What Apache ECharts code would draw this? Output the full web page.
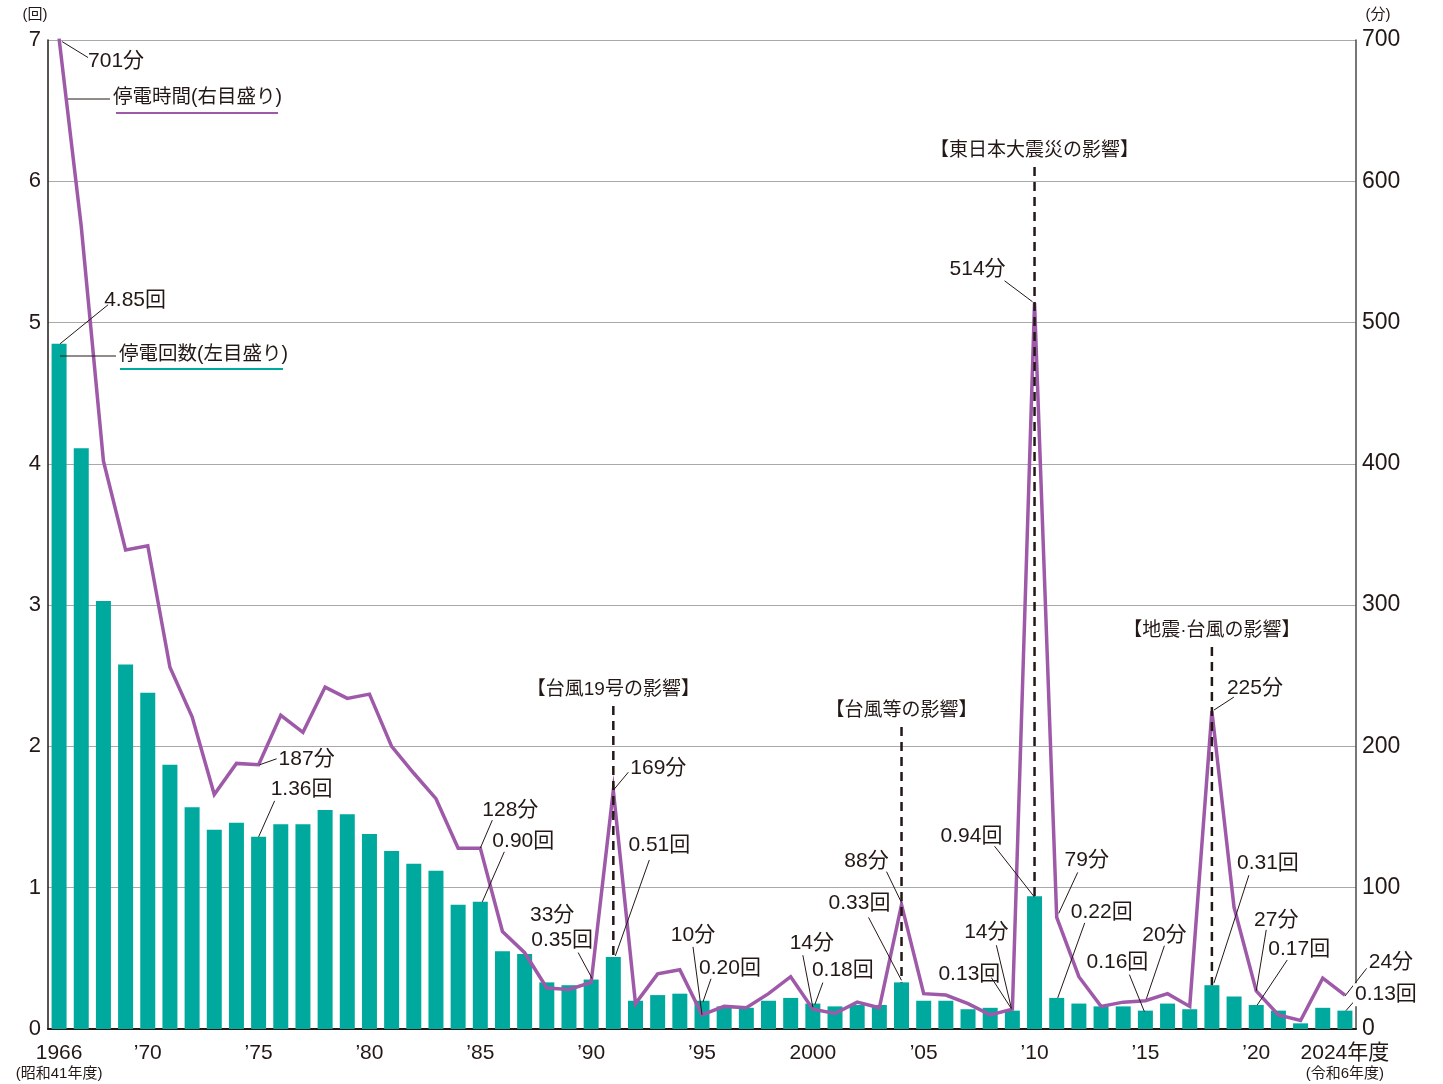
<!DOCTYPE html>
<html>
<head>
<meta charset="utf-8">
<script src="https://cdn.jsdelivr.net/npm/echarts@6/dist/echarts.min.js"></script>
<style>
html, body { margin: 0; background: #fff; }
#main { width: 1443px; height: 1084px; }
</style>
</head>
<body>
<div id="main"></div>
<script>
// 年度
var years = ['1966','1967','1968','1969','1970','1971','1972','1973','1974','1975',
             '1976','1977','1978','1979','1980','1981','1982','1983','1984','1985',
             '1986','1987','1988','1989','1990','1991','1992','1993','1994','1995',
             '1996','1997','1998','1999','2000','2001','2002','2003','2004','2005',
             '2006','2007','2008','2009','2010','2011','2012','2013','2014','2015',
             '2016','2017','2018','2019','2020','2021','2022','2023','2024'];
// 停電回数（回）
var counts = [4.85, 4.11, 3.03, 2.58, 2.38, 1.87, 1.57, 1.41, 1.46, 1.36,
              1.45, 1.45, 1.55, 1.52, 1.38, 1.26, 1.17, 1.12, 0.88, 0.90,
              0.55, 0.53, 0.33, 0.31, 0.35, 0.51, 0.20, 0.24, 0.25, 0.20,
              0.16, 0.15, 0.20, 0.22, 0.18, 0.16, 0.17, 0.17, 0.33, 0.20,
              0.20, 0.14, 0.15, 0.13, 0.94, 0.22, 0.18, 0.16, 0.16, 0.13,
              0.18, 0.14, 0.31, 0.23, 0.17, 0.13, 0.04, 0.15, 0.13];
// 停電時間（分）
var minutes = [701, 568, 402, 339, 342, 256, 221, 166, 188, 187,
               222, 210, 242, 234, 237, 200, 181, 163, 128, 128,
               69, 54, 29, 28, 33, 169, 18, 39, 42, 10,
               16, 15, 25, 37, 14, 11, 19, 15, 88, 25,
               24, 18, 10, 14, 514, 79, 37, 16, 19, 20,
               25, 16, 225, 86, 27, 10, 6, 36, 24];
var tickYears = ['1966','1970','1975','1980','1985','1990','1995','2000','2005','2010','2015','2020','2024'];
var tickLabels = ['1966', '’70', '’75', '’80', '’85', '’90', '’95', '2000', '’05', '’10', '’15', '’20', '2024年度'];
var leftTicks = [0, 1, 2, 3, 4, 5, 6, 7];
var rightTicks = [0, 100, 200, 300, 400, 500, 600, 700];

var TEXT = '#231815';
var TEAL = '#00a99d';
var PURPLE = '#9e5aa8';
var FONT = '"Liberation Sans", "Noto Sans CJK JP", sans-serif';

// 注記: 年度, 文字, 文字中心オフセット, 引出線(始点/終点オフセット), 白地
var minuteNotes = [
    ['1966', '701分', [57, 23], [3, 3, 29, 19]],
    ['1975', '187分', [48, -6], [1, 0, 18, -6]],
    ['1985', '128分', [30, -38], [0, 0, 12, -28]],
    ['1990', '33分', [-39, -67], null],
    ['1991', '169分', [45, -22], [0, 0, 15, -18]],
    ['1995', '10分', [-9, -80], [0, 0, -9, -68]],
    ['2000', '14分', [-1, -66], [0, -2, -10, -54]],
    ['2004', '88分', [-35, -43], [0, -2, -15, -33]],
    ['2010', '514分', [-57, -34], [-2, -1, -30, -22]],
    ['2009', '14分', [-26, -77], [-1, -1, -16, -64]],
    ['2011', '79分', [30, -57], [2, -4, 21, -45]],
    ['2015', '20分', [19, -66], [1, -2, 19, -55]],
    ['2018', '225分', [43, -23], [2, -1, 22, -14]],
    ['2020', '27分', [20, -71], [0, 0, 10, -61]],
    ['2024', '24分', [46, -33], [0, 1, 22, -27], true]
];
var countNotes = [
    ['1966', '4.85回', [76, -44], [1, 0, 49, -39]],
    ['1975', '1.36回', [43, -48], [0, 0, 16, -36]],
    ['1985', '0.90回', [43, -61], [2, 0, 24, -50]],
    ['1990', '0.35回', [-29, -39], [1, -1, -13, -27]],
    ['1991', '0.51回', [46, -112], [2, -1, 36, -97]],
    ['1995', '0.20回', [28, -33], [1, 1, 9, -22]],
    ['2000', '0.18回', [30, -33], [2, 1, 10, -21]],
    ['2004', '0.33回', [-42, -79], [0, -2, -33, -65]],
    ['2009', '0.13回', [-43, -36], [-1, -2, -21, -33]],
    ['2010', '0.94回', [-63, -60], [0, 1, -40, -50]],
    ['2011', '0.22回', [45, -86], [1, 0, 28, -75]],
    ['2015', '0.16回', [-28, -48], [-1, 1, -16, -36]],
    ['2018', '0.31回', [56, -122], [2, -2, 37, -110]],
    ['2020', '0.17回', [43, -56], [1, 0, 31, -45]],
    ['2024', '0.13回', [41, -16], [1, 0, 9, -9], true]
];
var events = [
    ['1991', '【台風19号の影響】', 690],
    ['2004', '【台風等の影響】', 711],
    ['2010', '【東日本大震災の影響】', 151],
    ['2018', '【地震·台風の影響】', 631]
];

var myChart = echarts.init(document.getElementById('main'));

var option = {
    animation: false,
    backgroundColor: '#fff',
    textStyle: { fontFamily: FONT },
    grid: {
        left: 48,
        right: 87,
        top: 40,
        bottom: 55,
        outerBoundsMode: 'none'
    },
    xAxis: {
        type: 'category',
        data: years,
        boundaryGap: true,
        axisLine: { lineStyle: { color: TEXT, width: 2 } },
        axisTick: { show: false },
        axisLabel: {
            margin: 12,
            verticalAlign: 'top',
            interval: function (index, value) {
                return tickYears.indexOf(value) >= 0;
            },
            formatter: function (value) {
                var label = tickLabels[tickYears.indexOf(value)];
                if (value === '1966') return '{y|' + label + '}\n{s|(昭和41年度)}';
                if (value === '2024') return '{y|' + label + '}\n{s|(令和6年度)}';
                return '{y|' + label + '}';
            },
            rich: {
                y: { fontSize: 21, color: TEXT, lineHeight: 24, fontFamily: FONT },
                s: { fontSize: 15, color: TEXT, lineHeight: 18, fontFamily: FONT }
            }
        }
    },
    yAxis: [
        {
            type: 'value',
            min: 0,
            max: 7,
            interval: 1,
            axisLine: { show: true, lineStyle: { color: TEXT, width: 1.5 } },
            axisTick: { show: false },
            splitLine: { lineStyle: { color: '#a9a9a9', width: 1 } },
            axisLabel: {
                margin: 7,
                fontSize: 22,
                color: TEXT,
                fontFamily: FONT,
                formatter: function (v) { return leftTicks.indexOf(v) >= 0 ? String(v) : ''; }
            }
        },
        {
            type: 'value',
            position: 'right',
            min: 0,
            max: 700,
            interval: 100,
            axisLine: { show: true, lineStyle: { color: '#4a4a4a', width: 1.5 } },
            axisTick: { show: false },
            splitLine: { show: false },
            axisLabel: {
                margin: 6,
                fontSize: 23,
                color: TEXT,
                fontFamily: FONT,
                formatter: function (v) { return rightTicks.indexOf(v) >= 0 ? String(v) : ''; }
            }
        }
    ],
    series: [
        {
            name: '停電回数',
            type: 'bar',
            yAxisIndex: 0,
            data: counts,
            barWidth: 15,
            itemStyle: { color: TEAL },
            z: 2
        },
        {
            name: '停電時間',
            type: 'line',
            yAxisIndex: 1,
            data: minutes,
            symbol: 'none',
            clip: false,
            lineStyle: { color: PURPLE, width: 3.5, join: 'miter' },
            z: 3
        }
    ]
};

myChart.setOption(option);

// 注記を描く
var graphics = [];

function px(year, value, axis) {
    return myChart.convertToPixel({ xAxisIndex: 0, yAxisIndex: axis }, [year, value]);
}

function addText(x, y, text, size, bg) {
    var style = {
        text: text,
        x: x,
        y: y,
        align: 'center',
        verticalAlign: 'middle',
        font: size + 'px ' + FONT,
        fill: TEXT
    };
    if (bg) {
        style.backgroundColor = '#fff';
        style.padding = [1, 2];
    }
    graphics.push({ type: 'text', z: 20, style: style });
}

function addLine(x1, y1, x2, y2, color, width, dash) {
    graphics.push({
        type: 'line',
        z: 15,
        shape: { x1: x1, y1: y1, x2: x2, y2: y2 },
        style: { stroke: color, lineWidth: width, lineDash: dash || null }
    });
}

function addNotes(notes, values, axis) {
    notes.forEach(function (n) {
        var p = px(n[0], values[years.indexOf(n[0])], axis);
        if (n[3]) {
            addLine(p[0] + n[3][0], p[1] + n[3][1], p[0] + n[3][2], p[1] + n[3][3], TEXT, 1);
        }
        addText(p[0] + n[2][0], p[1] + n[2][1], n[1], 21, n[4]);
    });
}

// 出来事の破線
events.forEach(function (e) {
    var i = years.indexOf(e[0]);
    var p = px(e[0], counts[i], 0);
    addLine(p[0], e[2] + 16, p[0], p[1], TEXT, 2.5, [9, 6]);
    addText(p[0], e[2], e[1], 19);
});

addNotes(minuteNotes, minutes, 1);
addNotes(countNotes, counts, 0);

// 凡例
addLine(68, 99, 110, 99, TEXT, 1);
graphics.push({ type: 'text', z: 20, style: { text: '停電時間(右目盛り)', x: 113, y: 98, verticalAlign: 'middle', font: '19.5px ' + FONT, fill: TEXT } });
addLine(116, 113, 278, 113, PURPLE, 2);
addLine(60, 356, 116, 356, TEXT, 1);
graphics.push({ type: 'text', z: 20, style: { text: '停電回数(左目盛り)', x: 119, y: 355, verticalAlign: 'middle', font: '19.5px ' + FONT, fill: TEXT } });
addLine(120, 369, 283, 369, TEAL, 2);

// 単位
addText(35, 15, '(回)', 15);
addText(1378, 15, '(分)', 15);

myChart.setOption({ graphic: graphics });
</script>
</body>
</html>
